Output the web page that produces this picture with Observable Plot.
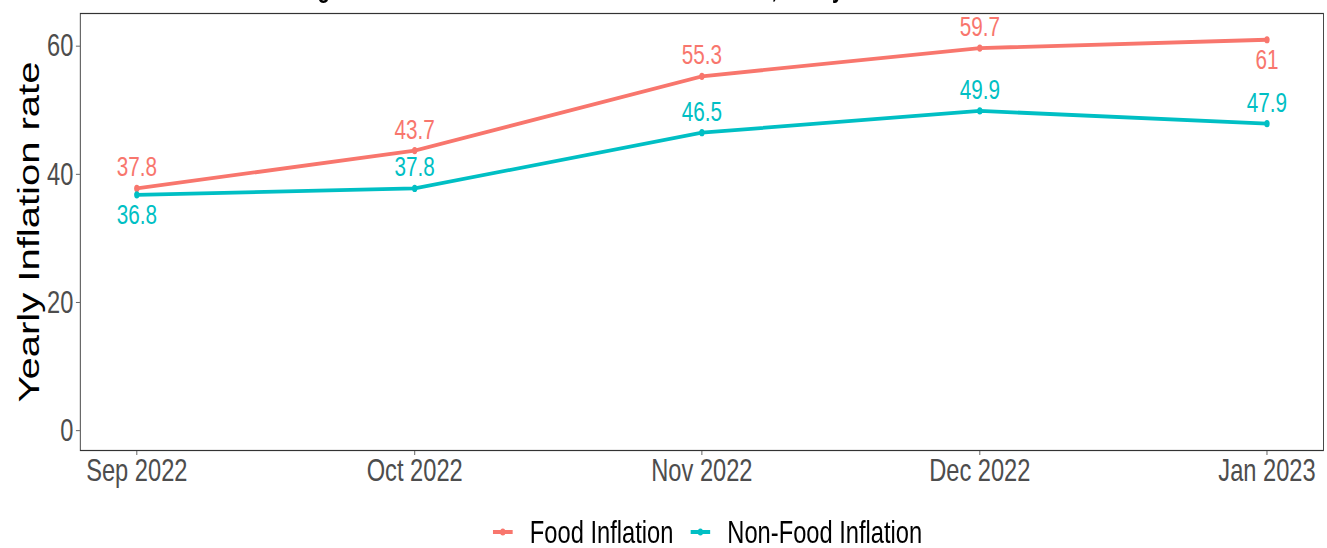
<!DOCTYPE html>
<html>
<head>
<meta charset="utf-8">
<script src="https://cdn.jsdelivr.net/npm/d3@7"></script>
<script src="https://cdn.jsdelivr.net/npm/@observablehq/plot@0.6"></script>
<style>
  html, body { margin: 0; padding: 0; background: #fff; overflow: hidden; }
  #wrap { width: 1793px; transform: scaleX(0.74); transform-origin: 0 0; font-family: "Liberation Sans", Arial, sans-serif; }
  #title { height: 9px; overflow: hidden; position: relative; }
  #title span { position: absolute; left: 331px; top: -26px; line-height: 28px; font-size: 28px; font-weight: bold; white-space: nowrap; color: #000; }
  #legend { padding-top: 26px; padding-left: 666px; display: flex; align-items: center; font-size: 32px; line-height: 32px; color: #000; }
  #legend .item { display: flex; align-items: center; margin-right: 23px; }
  #legend svg { margin-right: 23px; }
</style>
</head>
<body>
<div id="wrap">
  <div id="title"><span>Tracking Food and Non-Food Inflation in Urban Areas, Yearly Rate Based on the Urban CPI</span></div>
  <div id="chart"></div>
  <div id="legend"></div>
</div>
<script>
// ---- data ----
const months = ["2022-09-01", "2022-10-01", "2022-11-01", "2022-12-01", "2023-01-01"];
const foodInflation = [37.8, 43.7, 55.3, 59.7, 61];
const nonFoodInflation = [36.8, 37.8, 46.5, 49.9, 47.9];
const seriesNames = ["Food Inflation", "Non-Food Inflation"];
const seriesColors = ["#F8766D", "#00BFC4"];
const yTicks = [0, 20, 40, 60];
const yLimits = [0, 62];
const yTitle = "Yearly Inflation rate";

// ---- build table ----
const dates = months.map(d => new Date(d + "T00:00:00Z"));
const rows = [];
[foodInflation, nonFoodInflation].forEach((vals, s) => {
  vals.forEach((v, i) => rows.push({ series: seriesNames[s], date: dates[i], value: v, idx: i }));
});
const labelBelow = r =>
  (r.series === seriesNames[0] && r.idx === dates.length - 1) ||
  (r.series === seriesNames[1] && r.idx === 0);

// ggplot-like 5% expansion
const t0 = +dates[0], t1 = +dates[dates.length - 1];
const xpad = (t1 - t0) * 0.05;
const ypad = (yLimits[1] - yLimits[0]) * 0.05;

const chart = Plot.plot({
  width: 1793,
  height: 481,
  marginLeft: 108,
  marginRight: 5,
  marginTop: 4,
  marginBottom: 40,
  style: { fontFamily: "'Liberation Sans', Arial, sans-serif", fontSize: "32px", color: "#4d4d4d", background: "#fff", overflow: "visible" },
  x: {
    type: "utc",
    domain: [new Date(t0 - xpad), new Date(t1 + xpad)],
    ticks: dates,
    tickFormat: d3.utcFormat("%b %Y"),
    tickSize: 5,
    tickPadding: 3,
    label: null
  },
  y: {
    domain: [yLimits[0] - ypad, yLimits[1] + ypad],
    ticks: yTicks,
    tickSize: 5.4,
    tickPadding: 4,
    label: null
  },
  color: { domain: seriesNames, range: seriesColors },
  marks: [
    Plot.frame({ stroke: "#333", strokeWidth: 1.2 }),
    Plot.line(rows, { x: "date", y: "value", stroke: "series", strokeWidth: 3.8 }),
    Plot.dot(rows, { x: "date", y: "value", fill: "series", r: 3.6, stroke: null }),
    Plot.text(rows.filter(r => !labelBelow(r)), { x: "date", y: "value", text: d => String(d.value), fill: "series", fontSize: 28, dy: -21 }),
    Plot.text(rows.filter(r => labelBelow(r)), { x: "date", y: "value", text: d => String(d.value), fill: "series", fontSize: 28, dy: 20 }),
    Plot.text([yTitle], { frameAnchor: "left", textAnchor: "middle", lineAnchor: "middle", dx: -68, rotate: -90, fontSize: 40, fill: "#000" })
  ]
});
document.getElementById("chart").appendChild(chart);

// ---- legend ----
const legend = document.getElementById("legend");
seriesNames.forEach((name, i) => {
  const item = document.createElement("div");
  item.className = "item";
  item.innerHTML =
    `<svg width="27" height="12" viewBox="0 0 27 12"><line x1="0" y1="6" x2="27" y2="6" stroke="${seriesColors[i]}" stroke-width="3.8"/><circle cx="13.5" cy="6" r="3.6" fill="${seriesColors[i]}"/></svg>`;
  const span = document.createElement("span");
  span.textContent = name;
  item.appendChild(span);
  legend.appendChild(item);
});
</script>
</body>
</html>
